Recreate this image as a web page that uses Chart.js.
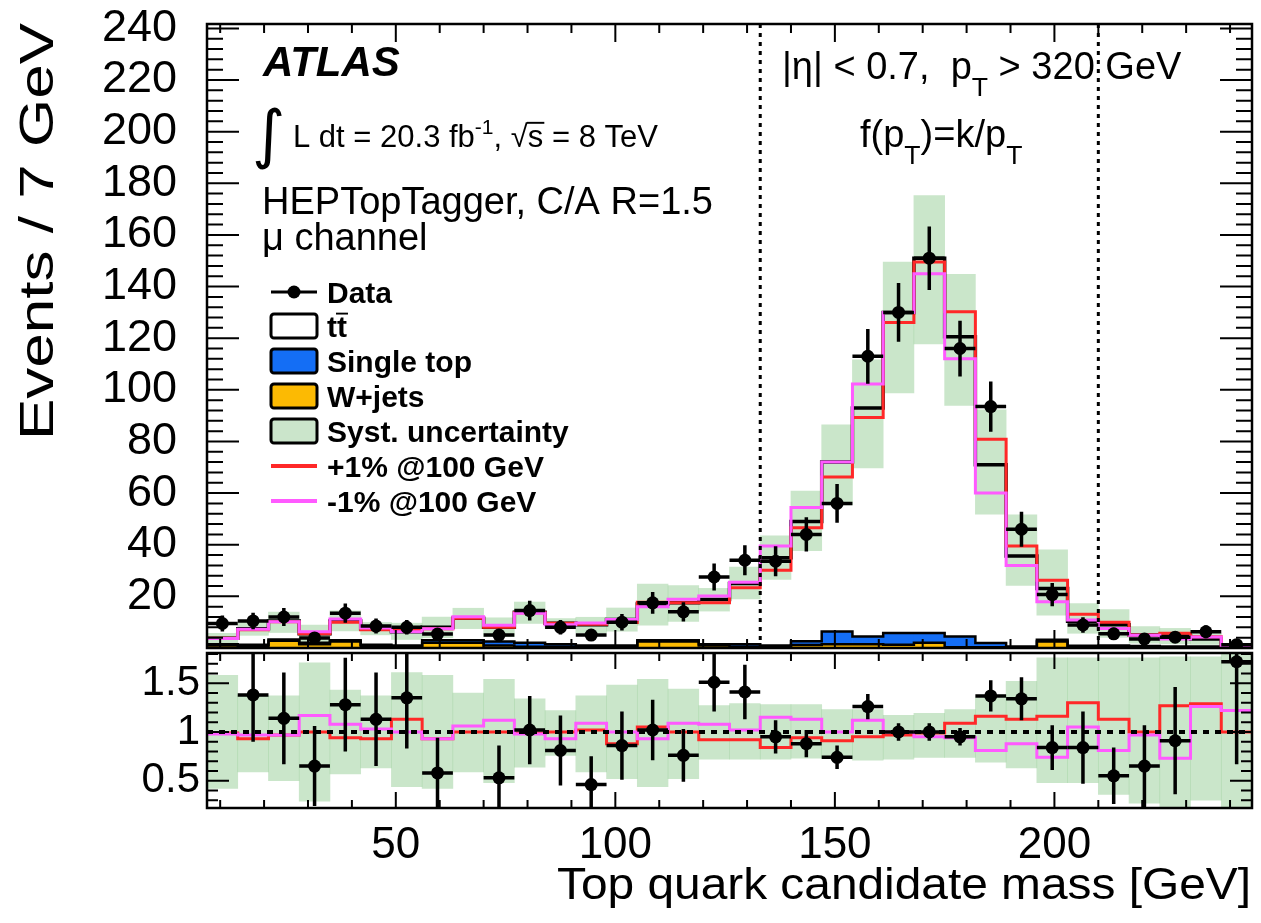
<!DOCTYPE html>
<html>
<head>
<meta charset="UTF-8">
<title>Top quark candidate mass</title>
<script src="https://cdn.jsdelivr.net/npm/chart.js"></script>
<style>
  body { margin: 0; background: #fff; }
  #wrap { position: relative; width: 1261px; height: 923px; background: #fff; }
  #mainCanvas { position: absolute; left: 0; top: 0; }
  #ratioCanvas { position: absolute; left: 0; top: 640px; }
</style>
</head>
<body>
<div id="wrap">
  <canvas id="mainCanvas" width="1261" height="660"></canvas>
  <canvas id="ratioCanvas" width="1261" height="283"></canvas>
</div>
<script>
const FONT = "'Liberation Sans', Arial, Helvetica, sans-serif";

// bin centres in GeV (7 GeV bins)
const massBins = [10.5, 17.5, 24.5, 31.5, 38.5, 45.5, 52.5, 59.5, 66.5, 73.5, 80.5, 87.5,
  94.5, 101.5, 108.5, 115.5, 122.5, 129.5, 136.5, 143.5, 150.5, 157.5, 164.5, 171.5,
  178.5, 185.5, 192.5, 199.5, 206.5, 213.5, 220.5, 227.5, 234.5, 241.5];
const halfBin = 3.5;
const massWindow = [133, 210];

// main panel
const dataEvents = [9.5, 10.5, 12, 3.9, 13.5, 8.5, 8, 5.4, null, 5, 14.5, 8, 5, 10, 17.5, 14,
  27.5, 34, 33.6, 44, 56, 113, 130, 151, 116, 93.5, 46, 20.7, 8.9, 5.5, 3.5, 4.2, 6.3, 1.3];
const dataErr = [3.1, 3.2, 3.5, 2.0, 3.7, 2.9, 2.8, 2.3, 0, 2.2, 3.8, 2.8, 2.2, 3.2, 4.2, 3.7,
  5.2, 5.8, 5.8, 6.6, 7.5, 10.6, 11.4, 12.3, 10.8, 9.7, 6.8, 4.5, 3.0, 2.3, 1.9, 2.0, 2.5, 1.1];
const wjets = [1.0, 0.8, 2.8, 1.5, 2.5, 0.8, 0.5, 2.0, 2.0, 1.0, 0.5, 0.5, 0.5, 0.5, 2.5, 2.5,
  1.0, 0.5, 0.6, 1.2, 1.5, 1.5, 1.3, 2.0, 0.3, 0.3, 0.3, 2.5, 0.4, 0.3, 0.4, 0.3, 0.3, 0.1];
const singleTop = [0.5, 0.5, 0.5, 0.5, 0.5, 0.5, 0.5, 1.0, 1.0, 1.5, 1.5, 1.0, 0.5, 0.5, 0.5, 0.5,
  0.5, 1.0, 0.4, 1.4, 4.9, 3.0, 4.5, 3.8, 4.2, 1.6, 0.3, 0.7, 0.5, 0.7, 0.4, 0.3, 0.3, 0.1];
const ttbar = [2.3, 6.2, 7.2, 3.5, 7.5, 6.2, 5.3, 5.0, 8.5, 5.5, 11.8, 8.1, 8.0, 10.0, 14.0, 14.5,
  17.3, 23.5, 34.0, 46.4, 65.6, 88.5, 124.2, 145.2, 116.1, 69.1, 35.0, 19.8, 9.5, 8.0, 4.2, 4.0, 2.9, 0.6];
const systLow = [1.9, 4.9, 6.0, 2.1, 6.6, 5.1, 3.3, 4.0, 7.5, 4.4, 9.5, 7.6, 5.9, 6.5, 8.8, 10.3,
  14.3, 19, 26.6, 37.7, 55.4, 69.8, 98.8, 117.8, 94, 51.8, 24.2, 12.7, 5.7, 4.1, 1.9, 1.6, 1.4, 0.3];
const systHigh = [5.7, 9.9, 13.9, 8.9, 14.4, 9.9, 9.6, 12.0, 15.4, 11.7, 17.8, 11.4, 11.9, 15.5, 24.8, 24.2,
  23.1, 31.3, 43.4, 60.8, 86.4, 111.6, 149.5, 175.2, 144.7, 92.3, 51.6, 38, 17.2, 14.9, 8.3, 7.6, 5.8, 1.4];
const plusOne = [3.8, 7.1, 10.2, 5.5, 10.0, 7.1, 7.0, 7.5, 11.5, 8.0, 13.7, 9.6, 9.2, 9.9, 17.7, 17.5,
  17.5, 23.3, 30.1, 46.6, 66.2, 89.3, 126.1, 149.5, 130.2, 80.9, 39.5, 26.2, 13.1, 10.0, 5.0, 5.7, 4.4, 0.8];
const minusOne = [3.7, 7.3, 10.2, 6.3, 11.2, 7.7, 6.3, 7.5, 12.1, 8.8, 13.5, 9.0, 9.7, 11.0, 16.0, 18.9,
  20.1, 25.5, 39.5, 54.4, 72.0, 102.3, 130.0, 145.0, 112.0, 60.0, 32.0, 17.9, 10.8, 7.6, 4.9, 3.5, 4.3, 0.95];

// ratio panel
const ratioData = [null, 1.38, 1.14, 0.65, 1.28, 1.13, 1.35, 0.58, null, 0.53, 1.02, 0.81, 0.46, 0.86, 1.02, 0.76,
  1.51, 1.41, 0.95, 0.88, 0.74, 1.26, 1.0, 1.0, 0.95, 1.37, 1.34, 0.84, 0.84, 0.55, 0.65, 0.91, null, 1.72];
const ratioErr = [0, 0.48, 0.47, 0.41, 0.48, 0.48, 0.52, 0.36, 0, 0.33, 0.35, 0.36, 0.29, 0.35, 0.31, 0.27,
  0.30, 0.28, 0.17, 0.14, 0.12, 0.13, 0.09, 0.09, 0.09, 0.16, 0.22, 0.23, 0.37, 0.29, 0.42, 0.55, 0, 1.05];
const ratioSystLow = [0.42, 0.59, 0.50, 0.29, 0.57, 0.63, 0.44, 0.42, 0.59, 0.48, 0.64, 0.76, 0.59, 0.52, 0.44, 0.52,
  0.72, 0.72, 0.72, 0.73, 0.73, 0.71, 0.72, 0.74, 0.74, 0.69, 0.63, 0.48, 0.48, 0.36, 0.27, 0.23, 0.30, 0.22];
const ratioSystHigh = [1.58, 1.37, 1.37, 1.71, 1.43, 1.37, 1.61, 1.58, 1.40, 1.54, 1.34, 1.22, 1.37, 1.48, 1.54, 1.44,
  1.27, 1.29, 1.28, 1.28, 1.23, 1.23, 1.17, 1.19, 1.23, 1.35, 1.52, 1.76, 1.76, 1.76, 1.76, 1.77, 1.77, 1.81];
const ratioPlus = [0.99, 0.93, 0.97, 1.0, 0.94, 0.93, 1.13, 0.93, 1.0, 1.0, 0.99, 1.0, 1.02, 0.88, 1.05, 1.0,
  0.92, 0.92, 0.84, 0.94, 0.91, 0.95, 0.97, 0.99, 1.09, 1.16, 1.13, 1.16, 1.30, 1.13, 1.0, 1.27, 1.29, 1.0];
const ratioMinus = [0.98, 0.97, 0.97, 1.17, 1.08, 1.03, 1.0, 0.93, 1.06, 1.12, 0.98, 0.93, 1.09, 1.0, 0.93, 1.09,
  1.08, 1.02, 1.15, 1.13, 1.0, 1.12, 1.0, 0.95, 0.94, 0.81, 0.88, 0.74, 1.05, 0.81, 0.97, 0.73, 1.26, 1.22];

// ticks
const xTicks = [50, 100, 150, 200];
const yTicks = [20, 40, 60, 80, 100, 120, 140, 160, 180, 200, 220, 240];
const ratioTicks = [0.5, 1, 1.5];
const ratioTickLabels = ['0.5', '1', '1.5'];

const colWjets = 'rgb(252,186,3)';
const colSingleTop = 'rgb(20,110,245)';
const colSyst = 'rgba(150,205,150,0.5)';
const colPlus = 'rgb(255,40,40)';
const colMinus = 'rgb(255,90,255)';

// helpers
function stepPoints(vals) {
  const pts = [];
  vals.forEach((v, i) => {
    if (v == null) return;
    pts.push({x: massBins[i] - halfBin, y: v}, {x: massBins[i] + halfBin, y: v});
  });
  return pts;
}
function rangeBars(lo, hi) {
  return massBins.map((c, i) => ({x: c, y: [lo[i], hi[i]]}));
}
function markers(vals) {
  return vals.map((v, i) => v == null ? null : {x: massBins[i], y: v}).filter(Boolean);
}
const cumW = wjets.slice();
const cumWst = wjets.map((w, i) => w + singleTop[i]);
const cumAll = cumWst.map((s, i) => s + ttbar[i]);

function stepLine(vals, color, width, order) {
  return {type: 'line', data: stepPoints(vals), borderColor: color, borderWidth: width,
    pointRadius: 0, fill: false, tension: 0, order: order, borderJoinStyle: 'miter'};
}
function barSet(data, color, order) {
  return {type: 'bar', data: data, backgroundColor: color, borderWidth: 0, grouped: false,
    barPercentage: 1, categoryPercentage: 1, order: order};
}
function markerSet(vals) {
  return {type: 'line', data: markers(vals), showLine: false, pointRadius: 6.5,
    pointBackgroundColor: '#000', pointBorderColor: '#000', pointBorderWidth: 0, order: 0};
}
// kill the automatic label padding so the plot frame sits where it should
function fixY(width) {
  return s => { s.width = width; s.paddingTop = 0; s.paddingBottom = 0; };
}

function richText(ctx, x, y, size, parts) {
  let cx = x;
  parts.forEach(p => {
    const s = size * (p.s || 1);
    ctx.font = (p.i ? 'italic ' : '') + (p.b ? 'bold ' : '') + s + 'px ' + FONT;
    ctx.fillText(p.t, cx, y + (p.dy || 0));
    const w = ctx.measureText(p.t).width;
    if (p.over) {
      ctx.save();
      ctx.lineWidth = Math.max(1.5, s / 16);
      ctx.beginPath();
      ctx.moveTo(cx - 1, y - s * 0.78);
      ctx.lineTo(cx + w + 1, y - s * 0.78);
      ctx.stroke();
      ctx.restore();
    }
    cx += w;
  });
  return cx;
}

// text stretched to a given length (axis titles)
function titleText(ctx, text, x, y, size, length, rotated, align) {
  ctx.save();
  ctx.translate(x, y);
  if (rotated) ctx.rotate(-Math.PI / 2);
  ctx.font = size + 'px ' + FONT;
  const w = ctx.measureText(text).width;
  ctx.scale(length / w, 1);
  ctx.textAlign = align;
  ctx.textBaseline = 'alphabetic';
  ctx.fillStyle = '#000';
  ctx.fillText(text, 0, 0);
  ctx.restore();
}

// error bars for data points
const errorBars = {
  id: 'errorBars',
  afterDatasetsDraw(chart, args, o) {
    const {ctx, chartArea: a, scales: {x, y}} = chart;
    ctx.save();
    ctx.beginPath();
    ctx.rect(a.left, a.top, a.width, a.height);
    ctx.clip();
    ctx.strokeStyle = '#000';
    ctx.lineWidth = 3.5;
    o.values.forEach((v, i) => {
      if (v == null) return;
      const e = o.errors[i];
      const cx = x.getPixelForValue(massBins[i]);
      const cy = y.getPixelForValue(v);
      ctx.beginPath();
      ctx.moveTo(cx, y.getPixelForValue(v + e));
      ctx.lineTo(cx, y.getPixelForValue(v - e));
      ctx.moveTo(x.getPixelForValue(massBins[i] - halfBin), cy);
      ctx.lineTo(x.getPixelForValue(massBins[i] + halfBin), cy);
      ctx.stroke();
    });
    ctx.restore();
  }
};

// ROOT style frame with inward ticks on all sides
const rootAxes = {
  id: 'rootAxes',
  afterDraw(chart, args, o) {
    const {ctx, chartArea: a, scales: {x, y}} = chart;
    ctx.save();
    ctx.strokeStyle = '#000';
    ctx.lineWidth = 2;
    ctx.beginPath();
    for (let v = 10; v <= 240; v += 10) {
      const px = x.getPixelForValue(v);
      const len = xTicks.includes(v) ? o.xMajor : o.xMinor;
      ctx.moveTo(px, a.bottom); ctx.lineTo(px, a.bottom - len);
      ctx.moveTo(px, a.top); ctx.lineTo(px, a.top + len);
    }
    o.yMinorVals.forEach(v => {
      const py = y.getPixelForValue(v);
      const len = o.yMajorVals.includes(v) ? o.yMajor : o.yMinor;
      ctx.moveTo(a.left, py); ctx.lineTo(a.left + len, py);
      ctx.moveTo(a.right, py); ctx.lineTo(a.right - len, py);
    });
    ctx.stroke();
    ctx.lineWidth = 2.5;
    ctx.strokeRect(a.left, a.top, a.width, a.height);
    if (o.titles) o.titles(ctx, a);
    ctx.restore();
  }
};

const windowLines = {
  id: 'windowLines',
  afterDatasetsDraw(chart) {
    const {ctx, chartArea: a, scales: {x}} = chart;
    ctx.save();
    ctx.strokeStyle = '#000';
    ctx.lineWidth = 3;
    ctx.setLineDash([4, 5]);
    massWindow.forEach(m => {
      const px = x.getPixelForValue(m);
      ctx.beginPath();
      ctx.moveTo(px, a.top);
      ctx.lineTo(px, a.bottom);
      ctx.stroke();
    });
    ctx.restore();
  }
};

const mainText = {
  id: 'mainText',
  afterDraw(chart) {
    const ctx = chart.ctx;
    ctx.save();
    ctx.fillStyle = '#000';
    ctx.strokeStyle = '#000';
    ctx.textBaseline = 'alphabetic';
    ctx.font = 'italic bold 42px ' + FONT;
    ctx.fillText('ATLAS', 263, 76);
    ctx.font = "64px 'DejaVu Sans'";
    ctx.fillText('\u222B', 252, 156);
    richText(ctx, 293, 147, 31, [{t: 'L dt = 20.3 fb'}, {t: '-1', s: 0.68, dy: -13},
      {t: ', \u221A'}, {t: 's', over: true}, {t: ' = 8 TeV'}]);
    richText(ctx, 262, 214, 38, [{t: 'HEPTopTagger, C/A R=1.5'}]);
    richText(ctx, 262, 250, 38, [{t: '\u03BC channel'}]);
    richText(ctx, 782, 79, 38, [{t: '|\u03B7| < 0.7,  p'}, {t: 'T', s: 0.7, dy: 17}, {t: ' > 320 GeV'}]);
    richText(ctx, 860, 147, 38, [{t: 'f(p'}, {t: 'T', s: 0.7, dy: 17}, {t: ')=k/p'}, {t: 'T', s: 0.7, dy: 17}]);

    // legend
    const lx = 271, lw = 46, tx = 327;
    const rows = [292, 326, 361, 396, 431, 466, 501];
    ctx.lineWidth = 3;
    ctx.beginPath();
    ctx.moveTo(lx, rows[0]); ctx.lineTo(lx + lw, rows[0]);
    ctx.stroke();
    ctx.beginPath();
    ctx.arc(lx + lw / 2, rows[0], 6.5, 0, Math.PI * 2);
    ctx.fill();
    [['#fff', rows[1]], [colSingleTop, rows[2]], [colWjets, rows[3]], ['rgb(203,229,203)', rows[4]]].forEach(([c, ry]) => {
      ctx.fillStyle = c;
      ctx.beginPath();
      ctx.roundRect(lx, ry - 12, lw, 24, 3);
      ctx.fill();
      ctx.lineWidth = 3;
      ctx.stroke();
    });
    ctx.lineWidth = 4;
    ctx.strokeStyle = colPlus;
    ctx.beginPath(); ctx.moveTo(lx, rows[5]); ctx.lineTo(lx + lw, rows[5]); ctx.stroke();
    ctx.strokeStyle = colMinus;
    ctx.beginPath(); ctx.moveTo(lx, rows[6]); ctx.lineTo(lx + lw, rows[6]); ctx.stroke();
    ctx.fillStyle = '#000';
    ctx.strokeStyle = '#000';
    const labels = [[{t: 'Data', b: true}], [{t: 't', b: true}, {t: 't', b: true, over: true}],
      [{t: 'Single top', b: true}], [{t: 'W+jets', b: true}], [{t: 'Syst. uncertainty', b: true}],
      [{t: '+1% @100 GeV', b: true}], [{t: '-1% @100 GeV', b: true}]];
    labels.forEach((parts, k) => richText(ctx, tx, rows[k] + 11, 30, parts));
    ctx.restore();
  }
};

new Chart(document.getElementById('mainCanvas'), {
  type: 'bar',
  data: {
    datasets: [
      barSet(rangeBars(wjets.map(() => 0), cumW), colWjets, 10),
      barSet(rangeBars(cumW, cumWst), colSingleTop, 9),
      barSet(rangeBars(systLow, systHigh), colSyst, 8),
      stepLine(cumW, '#000', 2.5, 6),
      stepLine(cumWst, '#000', 2.5, 5),
      stepLine(cumAll, '#000', 3.5, 4),
      stepLine(plusOne, colPlus, 3, 3),
      stepLine(minusOne, colMinus, 3, 2),
      markerSet(dataEvents)
    ]
  },
  options: {
    responsive: false,
    animation: false,
    events: [],
    layout: {padding: {left: 0, top: 24, right: 9, bottom: 12}},
    plugins: {
      legend: {display: false},
      tooltip: {enabled: false},
      errorBars: {values: dataEvents, errors: dataErr},
      rootAxes: {xMajor: 18, xMinor: 9, yMajor: 32, yMinor: 16,
        yMajorVals: yTicks, yMinorVals: Array.from({length: 60}, (_, k) => (k + 1) * 4),
        titles: (ctx) => titleText(ctx, 'Events / 7 GeV', 53, 23, 49, 417, true, 'right')}
    },
    scales: {
      x: {type: 'linear', min: 7, max: 245, offset: false, display: false},
      y: {
        type: 'linear', min: 0, max: 241.7,
        afterFit: fixY(207),
        afterBuildTicks: s => { s.ticks = yTicks.map(v => ({value: v})); },
        grid: {display: false, drawTicks: false}, border: {display: false},
        ticks: {padding: 30, autoSkip: false, color: '#000', font: {family: FONT, size: 45}}
      }
    }
  },
  plugins: [windowLines, errorBars, rootAxes, mainText]
});

new Chart(document.getElementById('ratioCanvas'), {
  type: 'bar',
  data: {
    datasets: [
      barSet(rangeBars(ratioSystLow, ratioSystHigh), colSyst, 8),
      stepLine(ratioPlus, colPlus, 3, 3),
      stepLine(ratioMinus, colMinus, 3, 2),
      {type: 'line', data: [{x: 7, y: 1}, {x: 245, y: 1}], borderColor: '#000', borderWidth: 4,
        borderDash: [6, 6], pointRadius: 0, order: 1},
      markerSet(ratioData)
    ]
  },
  options: {
    responsive: false,
    animation: false,
    events: [],
    layout: {padding: {left: 0, top: 13, right: 9, bottom: 0}},
    plugins: {
      legend: {display: false},
      tooltip: {enabled: false},
      errorBars: {values: ratioData, errors: ratioErr},
      rootAxes: {xMajor: 16, xMinor: 8, yMajor: 22, yMinor: 11,
        yMajorVals: ratioTicks,
        yMinorVals: [0.3, 0.4, 0.5, 0.6, 0.7, 0.8, 0.9, 1, 1.1, 1.2, 1.3, 1.4, 1.5, 1.6, 1.7, 1.8],
        titles: (ctx) => {
          titleText(ctx, 'Data/Sim.', 53, 655, 49, 150, true, 'right');
          titleText(ctx, 'Top quark candidate mass [GeV]', 1251, 259, 45, 694, false, 'right');
        }}
    },
    scales: {
      x: {
        type: 'linear', min: 7, max: 245, offset: false,
        afterFit: s => { s.height = 115; s.paddingLeft = 0; s.paddingRight = 0; },
        afterBuildTicks: s => { s.ticks = xTicks.map(v => ({value: v})); },
        grid: {display: false, drawTicks: false}, border: {display: false},
        ticks: {padding: 11, autoSkip: false, color: '#000', maxRotation: 0, font: {family: FONT, size: 44}}
      },
      y: {
        type: 'linear', min: 0.22, max: 1.81,
        afterFit: fixY(207),
        afterBuildTicks: s => { s.ticks = ratioTicks.map(v => ({value: v})); },
        grid: {display: false, drawTicks: false}, border: {display: false},
        ticks: {padding: 7, autoSkip: false, color: '#000', font: {family: FONT, size: 42},
          callback: (v, i) => ratioTickLabels[i]}
      }
    }
  },
  plugins: [errorBars, rootAxes]
});
</script>
</body>
</html>
